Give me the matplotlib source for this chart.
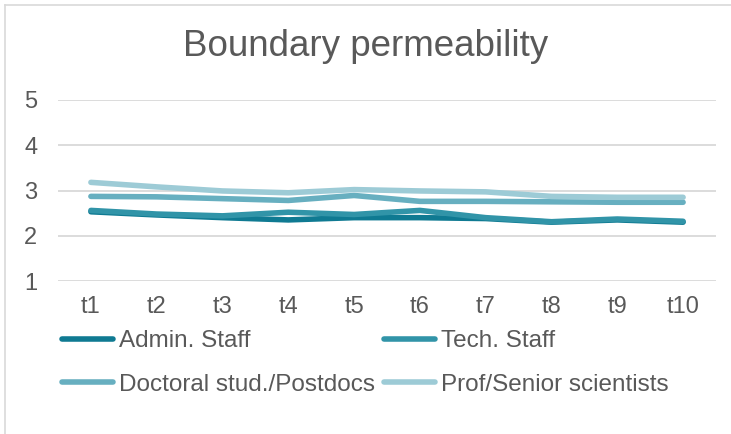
import matplotlib.pyplot as plt
from matplotlib.lines import Line2D

periods = ['t1', 't2', 't3', 't4', 't5', 't6', 't7', 't8', 't9', 't10']
admin = [2.53, 2.46, 2.40, 2.35, 2.40, 2.40, 2.38, 2.30, 2.35, 2.30]
tech = [2.56, 2.48, 2.44, 2.52, 2.47, 2.56, 2.40, 2.31, 2.37, 2.32]
doctoral = [2.87, 2.86, 2.82, 2.78, 2.89, 2.76, 2.76, 2.75, 2.74, 2.74]
prof = [3.18, 3.08, 2.99, 2.95, 3.02, 2.99, 2.97, 2.87, 2.85, 2.85]

series = [
    ('Admin. Staff', admin, '#0f7a92'),
    ('Tech. Staff', tech, '#3194a8'),
    ('Doctoral stud./Postdocs', doctoral, '#67afc0'),
    ('Prof/Senior scientists', prof, '#9dcbd6'),
]

plt.rcParams['font.family'] = ['Liberation Sans', 'DejaVu Sans']
text_col = '#595959'

fig = plt.figure(figsize=(7.31, 4.34), dpi=100)
ax = fig.add_axes([58 / 731, 1 - 281 / 434, 658 / 731, 181 / 434])

x = list(range(len(periods)))
for name, vals, col in series:
    ax.plot(x, vals, color=col, lw=4, solid_capstyle='round', label=name)

ax.set_xlim(-0.5, len(periods) - 0.5)
ax.set_ylim(1, 5)
ax.set_yticks([1, 2, 3, 4, 5])
ax.set_xticks(x)
ax.set_xticklabels(periods)
ax.grid(axis='y', color='#d9d9d9', lw=1.3)
ax.set_axisbelow(True)
for s in ax.spines.values():
    s.set_visible(False)
ax.tick_params(length=0, labelsize=17, colors=text_col)
ax.tick_params(axis='y', pad=15)
ax.tick_params(axis='x', pad=11)

fig.text(0.5, 1 - 47 / 434, 'Boundary permeability', ha='center', va='center',
         fontsize=26.5, color=text_col)

# row-major order for a 2-column legend
order = [0, 2, 1, 3]
handles = [Line2D([], [], color=series[i][2], lw=4, solid_capstyle='round') for i in order]
labels = [series[i][0] for i in order]
fig.legend(handles, labels, ncol=2, frameon=False,
           loc='upper left', bbox_to_anchor=(62 / 731, 1 - 330 / 434),
           fontsize=17.5, handlelength=2.1, handletextpad=0.25,
           columnspacing=0.35, labelspacing=0.9, labelcolor=text_col,
           borderaxespad=0, borderpad=0)

# chart area border (left and top only visible in the crop)
fig.add_artist(Line2D([5 / 731, 5 / 731], [0, 1 - 5 / 434], color='#d9d9d9', lw=1.2))
fig.add_artist(Line2D([5 / 731, 1], [1 - 5 / 434, 1 - 5 / 434], color='#d9d9d9', lw=1.2))

fig.savefig('out.png', dpi=100)
